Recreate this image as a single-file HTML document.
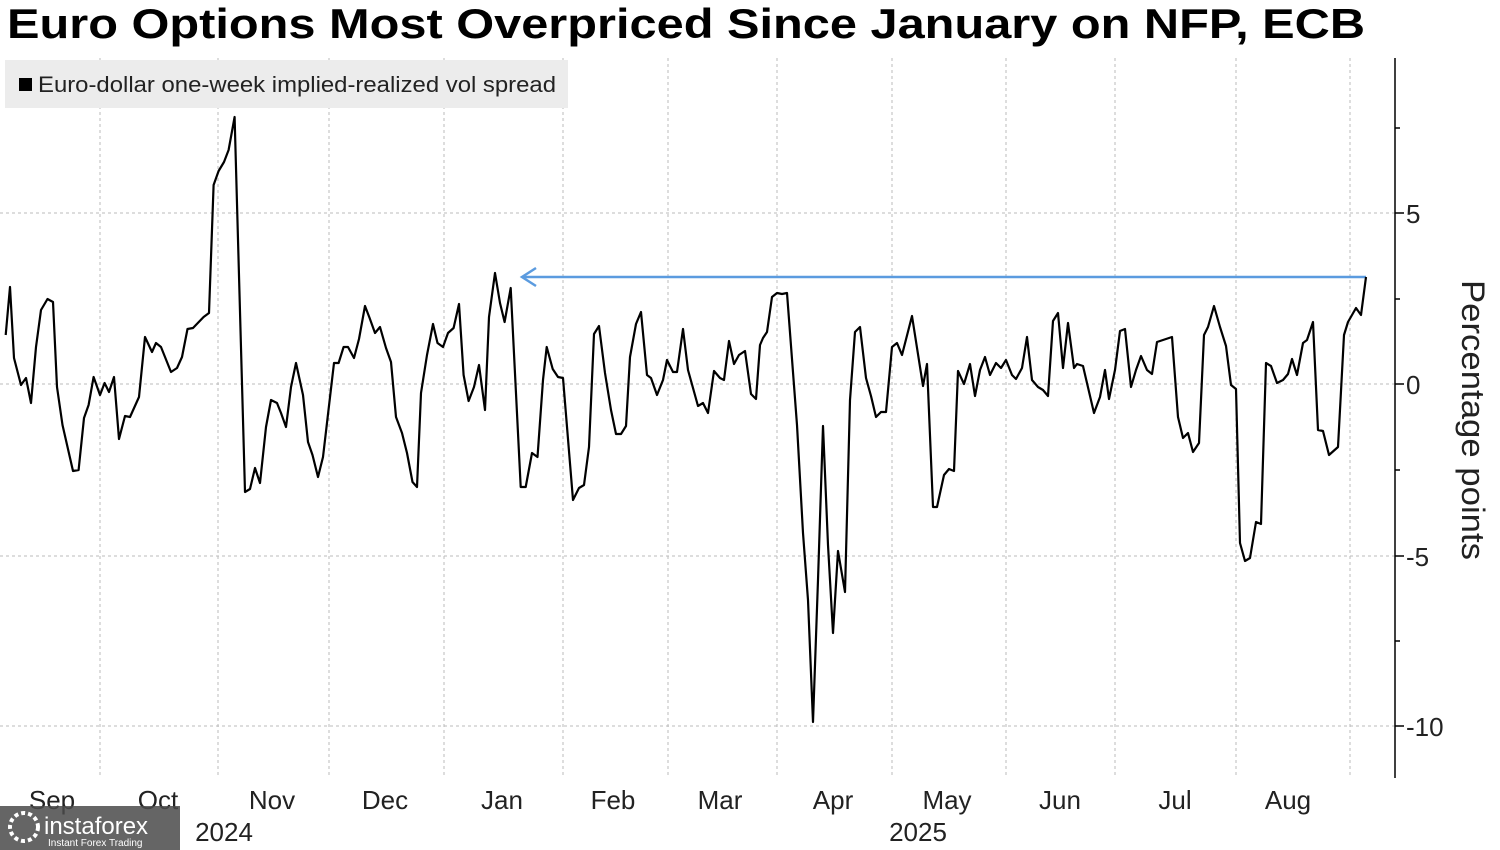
<!DOCTYPE html>
<html><head><meta charset="utf-8"><style>
html,body{margin:0;padding:0;background:#fff;}
svg{display:block;font-family:"Liberation Sans","DejaVu Sans",sans-serif;}
</style></head><body>
<svg width="1500" height="850" viewBox="0 0 1500 850" xmlns="http://www.w3.org/2000/svg">
<rect width="1500" height="850" fill="#fff"/>
<text x="7" y="38" font-size="42" font-weight="bold" fill="#000" textLength="1358" lengthAdjust="spacingAndGlyphs">Euro Options Most Overpriced Since January on NFP, ECB</text>
<g stroke="#bbb" stroke-width="1" stroke-dasharray="3,3">
<line x1="0" y1="213" x2="1395" y2="213"/><line x1="0" y1="384" x2="1395" y2="384"/>
<line x1="0" y1="556" x2="1395" y2="556"/><line x1="0" y1="726" x2="1395" y2="726"/>
<line x1="100" y1="58" x2="100" y2="778"/><line x1="218" y1="58" x2="218" y2="778"/>
<line x1="329" y1="58" x2="329" y2="778"/><line x1="444" y1="58" x2="444" y2="778"/>
<line x1="563" y1="58" x2="563" y2="778"/><line x1="668" y1="58" x2="668" y2="778"/>
<line x1="777" y1="58" x2="777" y2="778"/><line x1="892" y1="58" x2="892" y2="778"/>
<line x1="1006" y1="58" x2="1006" y2="778"/><line x1="1115" y1="58" x2="1115" y2="778"/>
<line x1="1236" y1="58" x2="1236" y2="778"/><line x1="1350" y1="58" x2="1350" y2="778"/>
</g>
<rect x="5" y="60" width="563" height="48" fill="#ececec"/>
<rect x="19" y="78" width="13" height="13" fill="#000"/>
<text x="38" y="92" font-size="22" fill="#222" textLength="518" lengthAdjust="spacingAndGlyphs">Euro-dollar one-week implied-realized vol spread</text>
<line x1="1395" y1="58" x2="1395" y2="778" stroke="#000" stroke-width="1.5"/>
<g stroke="#000" stroke-width="1.5">
<line x1="1395" y1="213" x2="1404" y2="213"/><line x1="1395" y1="384" x2="1404" y2="384"/>
<line x1="1395" y1="556" x2="1404" y2="556"/><line x1="1395" y1="726" x2="1404" y2="726"/>
<line x1="1395" y1="128" x2="1400" y2="128"/><line x1="1395" y1="299" x2="1400" y2="299"/>
<line x1="1395" y1="470" x2="1400" y2="470"/><line x1="1395" y1="641" x2="1400" y2="641"/>
</g>
<g font-size="26" fill="#222">
<text x="1406" y="223">5</text><text x="1406" y="394">0</text>
<text x="1406" y="566">-5</text><text x="1406" y="736">-10</text>
</g>
<text transform="translate(1462,420) rotate(90)" text-anchor="middle" font-size="32" fill="#222" textLength="280" lengthAdjust="spacingAndGlyphs">Percentage points</text>
<g font-size="26" fill="#222" text-anchor="middle">
<text x="52" y="809">Sep</text><text x="158" y="809">Oct</text><text x="272" y="809">Nov</text>
<text x="385" y="809">Dec</text><text x="502" y="809">Jan</text><text x="613" y="809">Feb</text>
<text x="720" y="809">Mar</text><text x="833" y="809">Apr</text><text x="947" y="809">May</text>
<text x="1060" y="809">Jun</text><text x="1175" y="809">Jul</text><text x="1288" y="809">Aug</text>
<text x="224" y="841">2024</text><text x="918" y="841">2025</text>
</g>
<line x1="523" y1="277" x2="1366" y2="277" stroke="#5b9bdf" stroke-width="2.5"/>
<polyline points="536,268 522,277 536,286" fill="none" stroke="#5b9bdf" stroke-width="2.5"/>
<polyline fill="none" stroke="#000" stroke-width="2.2" stroke-linejoin="round" points="
5.7,335 10,287 14,358 21,385 26,378 31,403 36,347 41,310 47.5,299 53,302 57,387 62.5,425 73,471 78.6,470 84,418 88.6,405 93.6,377 100,395 104.6,383 109,392 114,377 119,439 125,416 130,417 139,397 145,337 152,352 156,343 161,347 171,372 177,368 182,357 187.5,329 193,328 203.6,317 209,313 213.6,185 218.6,171 224,162 228.6,150 234.6,117 245,492 250,489 255,468 260,483 266,427 271,400 277,403 281,413 286,427 291,387 296,363 303,395 308,442 312.5,455 318,477 323,457 334,363 338.6,363 343.6,347 348,347 354,358 359,339 365,306 369.6,318 375,333 380,327 386,348 391,362 396,417 402,433 407,453 412.5,482 417,487 421,393 427,355 433,324 437.5,343 443,347 448,333 453.6,328 459,304 463.6,375 468.6,401 474,387 479,365 485,410 489,317 495,273 500,303 504.6,322 510.7,288 520.7,487 525.7,487 532,453 537.5,457 543,380 546.7,347 552.7,369 558,377 563,378 573,500 579,488 584,485 589,447 594,334 599,326 605,373 611,410 616,434 621,434 626,426 630,357 636,324 641,312 647,375 651,378 657,395 663,380 667,360 673,372 677,372 683,329 688,370 698,406 703,403 708,413 714,371 720,378 724,380 729,341 734,364 739,355 745,351 751,394 756,399 760,345 763,338 767,332 772,297 777,293 782,294 787,293 797,425 803,533 808,600 813,722 818,580 823,426 828,545 833,633 838,551 845,592 850,400 855,332 860,327 866,378 871,396 876,417 881,412 886,412 892,347 897,343 902,355 912,316 923,386 927,364 933,507 937,507 944,475 949,469 954,471 958,371 964,384 970,364 975,396 980,370 985,357 990,375 996,363 1001,368 1006,360 1012,375 1016,379 1022,368 1027,337 1032,380 1038,387 1043,390 1048,396 1053,321 1058,313 1063,368 1068,323 1074,368 1077,364 1083,366 1094,413 1100,397 1105,370 1109,399 1115,370 1120,331 1125,329 1131,387 1136,370 1141,356 1147,370 1152,374 1157,342 1172,337 1178,417 1183,438 1188,433 1193,452 1199,443 1204,335 1208,327 1214,306 1220,327 1226,346 1231,385 1236,389 1240,543 1245,561 1250,558 1256,522 1261,524 1266,363 1271,366 1277,383 1283,380 1288,374 1292,359 1297,375 1303,343 1307,340 1313,322 1318,430 1323,431 1329,455 1338,447 1344,335 1348,322 1356,308 1361,315 1366,277"/>
<rect x="0" y="806" width="180" height="44" fill="#4a4a4a" opacity="0.85"/>
<circle cx="24" cy="827" r="14" fill="none" stroke="#fff" stroke-width="4" stroke-dasharray="4,3"/>
<text x="44" y="834" font-size="24" fill="#fff">instaforex</text>
<text x="48" y="846" font-size="10" fill="#fff">Instant Forex Trading</text>
</svg>
</body></html>
